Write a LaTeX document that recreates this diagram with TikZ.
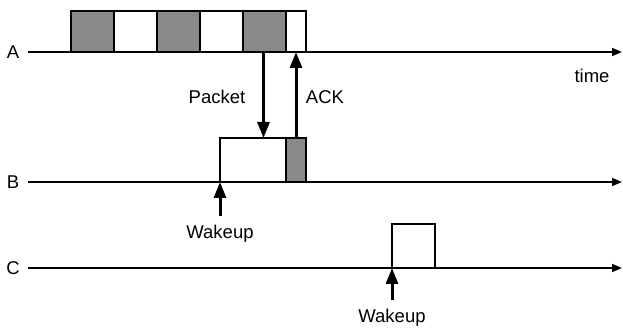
\documentclass[tikz,border=0pt]{standalone}
\usepackage{fontspec}
\setmainfont{Liberation Sans}
\usetikzlibrary{arrows.meta,calc}
\definecolor{slotgray}{RGB}{137,137,137}
\tikzset{
    axis/.style = {line width=1.5pt, -{Triangle[width=8pt,length=10pt]}},
    sig/.style = {line width=3pt, -{Triangle[width=12pt,length=16pt]}},
    slot/.style = {draw, line width=1.6pt, inner sep=0pt, outer sep=0pt, anchor=south west, minimum height=41pt},
    lbl/.style = {font=\fontsize{18.5}{21}\selectfont, inner sep=0pt}
}
\begin{document}
\begin{tikzpicture}[x=1pt, y=-1pt]
    \useasboundingbox (0,0) rectangle (623,328);
    % time lines
    \node[lbl] (lblA) at (13,52) {A};
    \node[lbl] (lblB) at (13,182) {B};
    \node[lbl] (lblC) at (13,268) {C};
    \draw[axis] (28,52) -- (622,52);
    \draw[axis] (28,182) -- (622,182);
    \draw[axis] (28,268) -- (622,268);
    \node[lbl] (time) at (592,76) {time};
    % sender A: preamble slots
    \foreach \i/\c in {1/slotgray,2/white,3/slotgray,4/white,5/slotgray}
        \node[slot, fill=\c, minimum width=43pt] (a\i) at ({71+43*(\i-1)},52) {};
    \node[slot, fill=white, minimum width=20pt] (a6) at (286,52) {};
    % receiver B
    \node[slot, fill=white, minimum width=66pt, minimum height=44pt] (b1) at (220,182) {};
    \node[slot, fill=slotgray, minimum width=20pt, minimum height=44pt] (b2) at (286,182) {};
    % node C
    \node[slot, fill=white, minimum width=43pt, minimum height=44pt] (c1) at (392,268) {};
    % packet / ack
    \draw[sig] ([xshift=-1pt]a5.south) -- ([xshift=-1pt]a5.south |- b1.north);
    \draw[sig] (b2.north) -- (a6.south);
    \node[lbl] (pkt) at (217,97) {Packet};
    \node[lbl] (ack) at (325,97) {ACK};
    % wakeups
    \node[lbl] (wakeB) at (220,234) {Wakeup};
    \node[lbl] (wakeC) at (392,318) {Wakeup};
    \draw[sig] ([yshift=9pt]wakeB.north) -- (b1.south west);
    \draw[sig] ([yshift=9pt]wakeC.north) -- (c1.south west);
\end{tikzpicture}
\end{document}
